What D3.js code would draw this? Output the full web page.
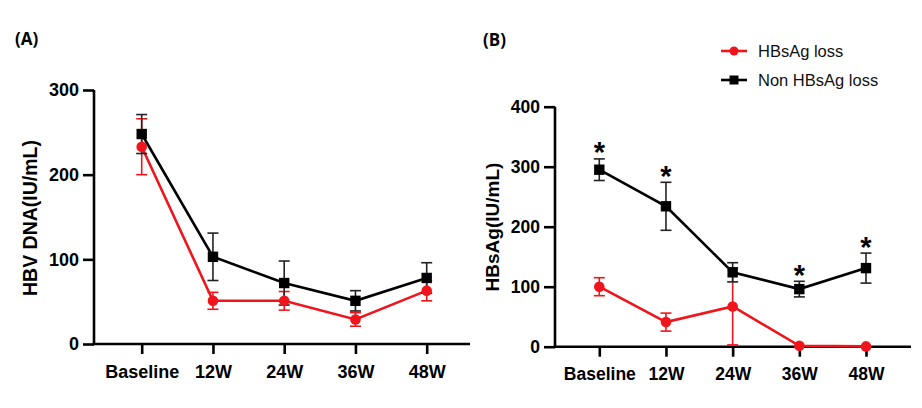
<!DOCTYPE html>
<html>
<head>
<meta charset="utf-8">
<script src="https://cdn.jsdelivr.net/npm/d3@7"></script>
<style>
  html, body { margin: 0; padding: 0; background: #fff; }
  svg { display: block; }
  text { font-family: "Liberation Sans", Arial, sans-serif; }
</style>
</head>
<body>
<svg id="chart" width="922" height="408"></svg>
<script>
// ---- data ----
const categories = ["Baseline", "12W", "24W", "36W", "48W"];

// Panel A: HBV DNA (IU/mL)
const dnaLossMean = [233, 51, 51, 29, 63];
const dnaLossErr  = [33, 10, 11, 8, 12];
const dnaNonMean  = [248, 103, 72, 51, 78];
const dnaNonErr   = [23, 28, 26, 12, 18];

// Panel B: HBsAg (IU/mL)
const agLossMean = [100, 41, 67, 1.5, 0.5];
const agLossErr  = [15, 15, 64, 0, 0];
const agNonMean  = [295, 234, 124, 96, 131];
const agNonErr   = [18, 40, 16, 13, 25];
const agStars    = [true, true, false, true, true];

const yTicksA = [0, 100, 200, 300];
const yTicksB = [0, 100, 200, 300, 400];

const seriesNames = ["HBsAg loss", "Non HBsAg loss"];
const RED = "#f0141c";
const BLACK = "#000000";

const svg = d3.select("#chart");

function panel(cfg) {
  const g = svg.append("g");
  const x = d3.scalePoint().domain(categories).range(cfg.xRange);
  const y = d3.scaleLinear().domain(cfg.yDomain).range(cfg.yRange);

  // y axis
  const yAxis = d3.axisLeft(y).tickValues(cfg.yTicks).tickSize(11).tickPadding(4).tickFormat(d3.format("d"));
  const ya = g.append("g").attr("transform", `translate(${cfg.axisX},0)`).call(yAxis);
  ya.select(".domain").attr("stroke", "#000").attr("stroke-width", 2.6)
    .attr("d", `M0,${cfg.yRange[1]}V${cfg.yRange[0]}`);
  ya.selectAll(".tick line").attr("stroke", "#000").attr("stroke-width", 2.6);
  ya.selectAll(".tick text").attr("fill", "#000").style("font-size", cfg.tickFont + "px")
    .style("font-weight", "bold");

  // x axis
  const xAxis = d3.axisBottom(x).tickSize(10).tickPadding(11);
  const xa = g.append("g").attr("transform", `translate(0,${cfg.yRange[0]})`).call(xAxis);
  xa.select(".domain").attr("stroke", "#000").attr("stroke-width", 2.6)
    .attr("d", `M${cfg.axisX - 1.3},0H${cfg.xAxisEnd}`);
  xa.selectAll(".tick line").attr("stroke", "#000").attr("stroke-width", 2.6);
  xa.selectAll(".tick text").attr("fill", "#000").style("font-size", cfg.xFont + "px")
    .style("font-weight", "bold");

  // y title
  g.append("text")
    .attr("transform", `translate(${cfg.titleX},${cfg.titleY}) rotate(-90)`)
    .attr("text-anchor", "middle").attr("dy", "0.35em")
    .style("font-size", cfg.titleFont + "px").style("font-weight", "bold")
    .text(cfg.title);

  // panel label
  g.append("text").attr("x", cfg.labelX).attr("y", cfg.labelY)
    .style("font-family", "'Open Sans', 'Noto Sans', sans-serif")
    .style("font-size", "17px").style("font-weight", "bold").text(cfg.label);

  const series = [
    { mean: cfg.nonMean, err: cfg.nonErr, color: BLACK, barColor: "#222" },
    { mean: cfg.lossMean, err: cfg.lossErr, color: RED, barColor: RED }
  ];
  const line = d3.line().x((d, i) => x(categories[i])).y(d => y(d));

  // lines
  series.forEach(s => {
    g.append("path").datum(s.mean).attr("d", line).attr("fill", "none")
      .attr("stroke", s.color).attr("stroke-width", 2.6);
  });
  // error bars (red first, black over)
  [series[1], series[0]].forEach(s => {
    const eb = g.append("g").attr("stroke", s.barColor).attr("stroke-width", 1.6);
    s.mean.forEach((m, i) => {
      const e = s.err[i];
      if (!e) return;
      const cx = x(categories[i]);
      const y1 = y(m + e), y0 = y(Math.max(0, m - e));
      eb.append("line").attr("x1", cx).attr("x2", cx).attr("y1", y1).attr("y2", y0);
      eb.append("line").attr("x1", cx - 5.5).attr("x2", cx + 5.5).attr("y1", y1).attr("y2", y1);
      eb.append("line").attr("x1", cx - 5.5).attr("x2", cx + 5.5).attr("y1", y0).attr("y2", y0);
    });
  });
  // markers: red circles then black squares
  g.append("g").selectAll("circle").data(cfg.lossMean).join("circle")
    .attr("cx", (d, i) => x(categories[i])).attr("cy", d => y(d)).attr("r", 5.3).attr("fill", RED);
  g.append("g").selectAll("rect").data(cfg.nonMean).join("rect")
    .attr("x", (d, i) => x(categories[i]) - 5.2).attr("y", d => y(d) - 5.2)
    .attr("width", 10.4).attr("height", 10.4).attr("fill", BLACK);

  // significance stars
  if (cfg.stars) {
    const starData = categories.map((c, i) => ({ c, top: cfg.nonMean[i] + cfg.nonErr[i], on: cfg.stars[i] }))
      .filter(d => d.on);
    g.append("g").selectAll("text").data(starData).join("text")
      .attr("x", d => x(d.c))
      .attr("y", d => y(d.top) + 3.5)
      .attr("text-anchor", "middle")
      .style("font-size", "29px").style("font-weight", "bold")
      .text("*");
  }
  return { x, y };
}

panel({
  xRange: [141.7, 426.7], yDomain: [0, 300], yRange: [344, 90],
  axisX: 94, xAxisEnd: 470, yTicks: yTicksA,
  tickFont: 18, xFont: 18, titleFont: 19.5,
  title: "HBV DNA(IU/mL)", titleX: 30, titleY: 218,
  label: "(A)", labelX: 15, labelY: 45,
  lossMean: dnaLossMean, lossErr: dnaLossErr, nonMean: dnaNonMean, nonErr: dnaNonErr
});

panel({
  xRange: [599.3, 866], yDomain: [0, 400], yRange: [346.7, 106.7],
  axisX: 555, xAxisEnd: 911, yTicks: yTicksB,
  tickFont: 17.5, xFont: 17.5, titleFont: 19,
  title: "HBsAg(IU/mL)", titleX: 492, titleY: 227,
  label: "(B)", labelX: 483, labelY: 46,
  lossMean: agLossMean, lossErr: agLossErr, nonMean: agNonMean, nonErr: agNonErr,
  stars: agStars
});

// legend
const legend = svg.append("g");
const legendY = [51, 80];
const legendColors = [RED, BLACK];
seriesNames.forEach((name, i) => {
  const gy = legendY[i];
  legend.append("line").attr("x1", 721).attr("x2", 747).attr("y1", gy).attr("y2", gy)
    .attr("stroke", legendColors[i]).attr("stroke-width", 2.6);
  if (i === 0) {
    legend.append("circle").attr("cx", 734).attr("cy", gy).attr("r", 4.5).attr("fill", RED);
  } else {
    legend.append("rect").attr("x", 734 - 4.5).attr("y", gy - 4.5).attr("width", 9).attr("height", 9).attr("fill", BLACK);
  }
  legend.append("text").attr("x", 758).attr("y", gy).attr("dy", "0.35em")
    .style("font-size", "16.5px").attr("fill", "#111").text(name);
});
</script>
</body>
</html>
